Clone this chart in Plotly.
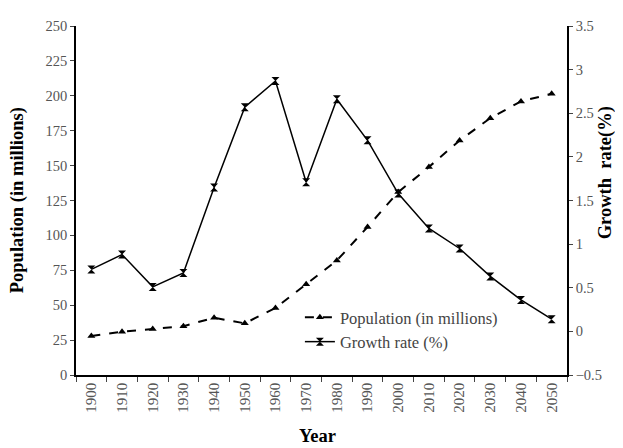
import plotly.graph_objects as go

years = [str(y) for y in range(1900, 2060, 10)]
population = [28, 31, 33, 35, 41, 37, 48, 65, 82, 106, 131, 149, 168, 184, 196, 201.5]
growth = [0.71, 0.88, 0.51, 0.67, 1.65, 2.57, 2.87, 1.71, 2.66, 2.19, 1.58, 1.18, 0.95, 0.63, 0.36, 0.14]

FONT = "Liberation Serif"
TITLE_FONT = dict(family=FONT, size=18.5, color="black")

fig = go.Figure()
fig.add_trace(go.Scatter(
    x=years, y=population, name="Population (in millions)", mode="lines+markers",
    line=dict(color="black", width=2, dash="dash"),
    marker=dict(symbol="triangle-up", size=7, color="black"),
))
fig.add_trace(go.Scatter(
    x=years, y=growth, name="Growth rate (%)", mode="lines+markers", yaxis="y2",
    line=dict(color="black", width=1.5),
    marker=dict(symbol="hourglass", size=8, color="black"),
))

fig.update_layout(
    width=615, height=440,
    margin=dict(l=68, r=56, t=10, b=73),
    paper_bgcolor="white", plot_bgcolor="white",
    font=dict(family=FONT, color="#444", size=12),
    showlegend=True,
    legend=dict(x=0.456, y=0.215, xanchor="left", yanchor="top",
                bgcolor="rgba(0,0,0,0)", font=dict(family=FONT, size=16.5, color="#444"),
                tracegroupgap=0, itemwidth=30),
    xaxis=dict(type="category", tickson="boundaries", ticks="outside", ticklen=5,
               range=[-0.5, len(years) - 0.5],
               tickangle=-90, showline=True, linecolor="black", linewidth=1.5,
               showgrid=False, tickfont=dict(family=FONT, size=15, color="#555")),
    yaxis=dict(range=[0, 250], dtick=25, ticks="outside", ticklen=4,
               showline=True, linecolor="black", linewidth=1.5, showgrid=False, zeroline=False,
               tickfont=dict(family=FONT, size=14.5, color="#555")),
    yaxis2=dict(range=[-0.5, 3.5], dtick=0.5, overlaying="y", side="right", ticks="outside", ticklen=4,
                showline=True, linecolor="black", linewidth=1.5, showgrid=False, zeroline=False,
                tickfont=dict(family=FONT, size=14.5, color="#555")),
    annotations=[
        dict(text="<b>Population (in millions)</b>", xref="paper", yref="paper", x=-0.120, y=0.501,
             xanchor="center", yanchor="middle", textangle=-90, showarrow=False, font=TITLE_FONT),
        dict(text="<b>Growth  rate(%)</b>", xref="paper", yref="paper", x=1.079, y=0.58,
             xanchor="center", yanchor="middle", textangle=-90, showarrow=False, font=TITLE_FONT),
        dict(text="<b>Year</b>", xref="paper", yref="paper", x=0.492, y=-0.176,
             xanchor="center", yanchor="middle", showarrow=False, font=TITLE_FONT),
    ],
)

fig.write_html("out.html")
